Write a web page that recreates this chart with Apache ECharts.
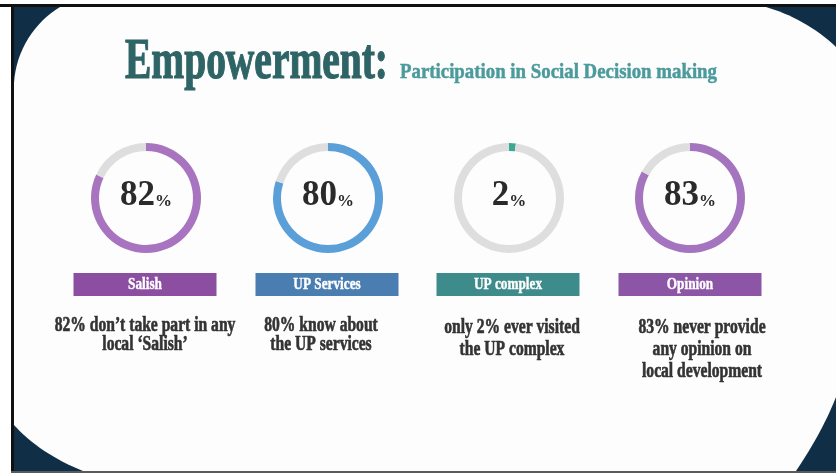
<!DOCTYPE html>
<html>
<head>
<meta charset="utf-8">
<title>Empowerment</title>
<script src="https://cdn.jsdelivr.net/npm/echarts@6/dist/echarts.min.js"></script>
<style>
  html, body { margin: 0; padding: 0; background: #fff; }
  #chart { width: 836px; height: 473px; }
</style>
</head>
<body>
<div id="chart"></div>
<script>
// chart data
const categories = ['Salish', 'UP Services', 'UP complex', 'Opinion']
const values = [82, 80, 2, 83]
const descriptions = [
  ['82% don’t take part in any', 'local ‘Salish’'],
  ['80% know about', 'the UP services'],
  ['only 2% ever visited', 'the UP complex'],
  ['83% never provide', 'any opinion on', 'local development']
]
const titleText = 'Empowerment:'
const subtitleText = 'Participation in Social Decision making'

// colours
const ringColors = ['#a874bf', '#5b9fd8', '#3aa98f', '#a474be']
const barColors = ['#8b4ea0', '#4a7db0', '#3d8b8b', '#8d55a5']
const restColor = '#dedede'

// layout
const centersX = [146, 328, 509, 690]
const labelX = [145, 327, 508, 690]
const descX = [145, 321, 512, 702]
const descY = [[326, 345], [326, 345], [328, 350], [328, 350, 372]]
const FONT = '"Liberation Serif", "DejaVu Serif", serif'

const chart = echarts.init(document.getElementById('chart'))

// horizontal squeeze so text fits the width seen on the slide
const ctx = document.createElement('canvas').getContext('2d')
function fit (text, font, width) {
  ctx.font = font
  return width / ctx.measureText(text).width
}

// points along a cubic curve, for the rounded panel outline
function cubic (p0, p1, p2, p3) {
  const pts = []
  for (let k = 0; k <= 16; k++) {
    const t = k / 16
    const u = 1 - t
    pts.push([
      u * u * u * p0[0] + 3 * u * u * t * p1[0] + 3 * u * t * t * p2[0] + t * t * t * p3[0],
      u * u * u * p0[1] + 3 * u * u * t * p1[1] + 3 * u * t * t * p2[1] + t * t * t * p3[1]
    ])
  }
  return pts
}
const panel = [].concat(
  cubic([766, 7], [790, 14], [815, 27], [836, 47]),
  cubic([836, 397], [825, 425], [810, 450], [796, 471]),
  cubic([83, 471], [55, 460], [30, 443], [14, 425]),
  cubic([14, 83], [16, 50], [35, 22], [60, 7])
)

const graphic = [
  // slide frame: navy corners behind a white rounded panel
  { type: 'rect', shape: { x: 14, y: 7, width: 822, height: 464 }, style: { fill: '#102e46' } },
  { type: 'polygon', shape: { points: panel }, style: { fill: '#fdfdfd' } },
  { type: 'rect', shape: { x: 0, y: 4, width: 836, height: 3 }, style: { fill: '#111' } },
  { type: 'rect', shape: { x: 11, y: 4, width: 3, height: 469 }, style: { fill: '#111' } },
  { type: 'rect', shape: { x: 11, y: 471, width: 825, height: 2 }, style: { fill: '#5a5a5a' } },
  {
    type: 'text',
    x: 125,
    y: 92,
    scaleX: fit(titleText, 'bold 56px ' + FONT, 263),
    style: {
      text: titleText, font: 'bold 56px ' + FONT, fill: '#2e6466',
      stroke: '#2e6466', lineWidth: 1.2, verticalAlign: 'bottom'
    }
  },
  {
    type: 'text',
    x: 400,
    y: 83,
    scaleX: fit(subtitleText, 'bold 22px ' + FONT, 317),
    style: {
      text: subtitleText, font: 'bold 22px ' + FONT, fill: '#4b9a9c',
      stroke: '#4b9a9c', lineWidth: 0.5, verticalAlign: 'bottom'
    }
  }
]

categories.forEach((name, i) => {
  graphic.push({
    type: 'rect',
    shape: { x: labelX[i] - 71.5, y: 273, width: 143, height: 23 },
    style: { fill: barColors[i] }
  })
  graphic.push({
    type: 'text',
    x: labelX[i],
    y: 285,
    scaleX: 0.78,
    style: {
      text: name, font: 'bold 17px ' + FONT, fill: '#fff',
      stroke: '#fff', lineWidth: 0.4, align: 'center', verticalAlign: 'middle'
    }
  })
  descriptions[i].forEach((line, j) => {
    graphic.push({
      type: 'text',
      x: descX[i],
      y: descY[i][j],
      scaleX: 0.78,
      style: {
        text: line, font: 'bold 20px ' + FONT, fill: '#333',
        stroke: '#333', lineWidth: 0.6, align: 'center', verticalAlign: 'middle'
      }
    })
  })
})

const series = values.map((v, i) => ({
  type: 'pie',
  center: [centersX[i], 198],
  radius: [47, 55],
  startAngle: 90,
  clockwise: true,
  silent: true,
  emphasis: { disabled: true },
  label: { show: false },
  labelLine: { show: false },
  data: [
    {
      value: v,
      itemStyle: { color: ringColors[i] },
      label: {
        show: true,
        position: 'center',
        formatter: '{n|' + v + '}{p|%}',
        rich: {
          n: { fontFamily: FONT, fontWeight: 'bold', fontSize: 35, color: '#2a2a2a', padding: [0, 0, 4, 0] },
          p: { fontFamily: FONT, fontWeight: 'bold', fontSize: 17, color: '#2a2a2a', padding: [8, 0, 0, 0] }
        }
      }
    },
    { value: 100 - v, itemStyle: { color: restColor } }
  ]
}))

chart.setOption({
  backgroundColor: '#ffffff',
  animation: false,
  graphic: graphic,
  series: series
})
</script>
</body>
</html>
